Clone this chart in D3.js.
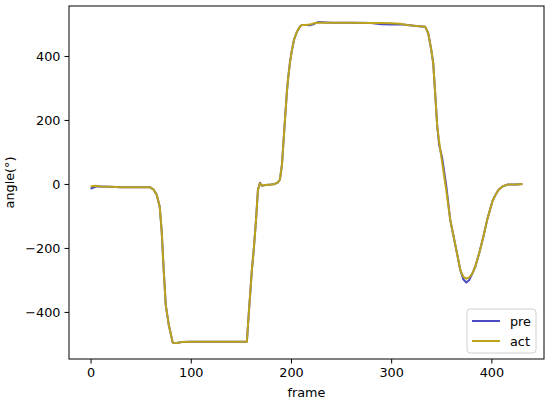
<!DOCTYPE html>
<html>
<head>
<meta charset="utf-8">
<script src="https://cdn.jsdelivr.net/npm/d3@7"></script>
<style>
  body { margin: 0; background: #fff; }
  text { font-family: "DejaVu Sans", sans-serif; }
</style>
</head>
<body>
<div id="chart"></div>
<script>
// frame numbers where values were read
var frames = [0,5,10,20,30,40,50,59,63,66,69,71,73,75,78,82,86,91,100,120,140,156,158,161,163,165,167,169,171,175,180,184,187,189,191,192,194,196,197,199,201,203,206,209,211,215,219,223,227,240,260,280,290,300,309,316,325,334,337,340,342,344,346,348,351,355,359,364,369,372,375,378,381,384,388,392,396,401,404,407,411,416,425,431];

// predicted angle
var pre = [-15,-8,-8,-9,-10,-10,-10,-10,-18,-34,-71,-150,-270,-378,-440,-496,-497,-494,-493,-493,-493,-493,-400,-269,-200,-118,-20,4,-6,-3,-2,0,5,14,60,106,200,290,325,380,419,450,476,492,497,497,496,500,506,504,504,503,499,498,499,497,494,491,471,420,377,280,179,120,80,-5,-113,-190,-269,-298,-308,-300,-280,-258,-215,-165,-110,-55,-35,-19,-8,-2,-2,0];

// actual angle
var act = [-8,-6,-8,-9,-10,-10,-10,-10,-18,-34,-71,-150,-270,-378,-440,-496,-497,-494,-493,-493,-493,-493,-400,-269,-200,-118,-20,2,-5,-3,-2,0,5,14,60,106,200,290,325,380,419,450,476,492,497,497,498,502,504,504,504,503,503,502,501,497,494,491,471,420,377,280,179,130,65,-20,-113,-190,-269,-290,-296,-292,-280,-258,-215,-165,-110,-55,-35,-19,-8,-2,-2,0];

var xTicks = [0, 100, 200, 300, 400];
var yTicks = [-400, -200, 0, 200, 400];

var seriesNames = ["pre", "act"];
var seriesColors = ["#4b4bc2", "#bba31c"];

var width = 550, height = 402;
var margin = {top: 6, right: 6, bottom: 43, left: 69};
var w = width - margin.left - margin.right;
var h = height - margin.top - margin.bottom;

var svg = d3.select("#chart").append("svg")
  .attr("width", width)
  .attr("height", height);

var g = svg.append("g")
  .attr("transform", "translate(" + margin.left + "," + margin.top + ")");

// matplotlib style 5% padding
var xr = d3.extent(frames);
var xpad = (xr[1] - xr[0]) * 0.05;
var allY = pre.concat(act);
var yr = d3.extent(allY);
var ypad = (yr[1] - yr[0]) * 0.05;

var x = d3.scaleLinear().domain([xr[0] - xpad, xr[1] + xpad]).range([0, w]);
var y = d3.scaleLinear().domain([yr[0] - ypad, yr[1] + ypad]).range([h, 0]);

var xAxis = d3.axisBottom(x).tickValues(xTicks).tickSize(4.5).tickPadding(4).tickSizeOuter(0);
var yAxis = d3.axisLeft(y).tickValues(yTicks).tickSize(4.5).tickPadding(4).tickSizeOuter(0);

var gx = g.append("g")
  .attr("transform", "translate(0," + h + ")")
  .call(xAxis);
var gy = g.append("g").call(yAxis);

[gx, gy].forEach(function(a) {
  a.select(".domain").remove();
  a.selectAll("line").attr("stroke", "#000").attr("stroke-width", 1);
  a.selectAll("text").attr("fill", "#000")
    .style("font-size", "12.8px")
    .style("font-family", "DejaVu Sans");
});

var line = d3.line()
  .x(function(d) { return x(d[0]); })
  .y(function(d) { return y(d[1]); });

var series = [pre, act];
series.forEach(function(vals, i) {
  var pts = frames.map(function(f, j) { return [f, vals[j]]; });
  g.append("path")
    .datum(pts)
    .attr("fill", "none")
    .attr("stroke", seriesColors[i])
    .attr("stroke-width", 2)
    .attr("stroke-linejoin", "round")
    .attr("d", line);
});

// axes frame
g.append("rect")
  .attr("x", 0).attr("y", 0)
  .attr("width", w).attr("height", h)
  .attr("fill", "none")
  .attr("stroke", "#000")
  .attr("stroke-width", 1);

// axis labels
svg.append("text")
  .attr("x", margin.left + w / 2)
  .attr("y", 397)
  .attr("text-anchor", "middle")
  .style("font-size", "12.8px")
  .text("frame");

svg.append("text")
  .attr("transform", "translate(14," + (margin.top + h / 2) + ") rotate(-90)")
  .attr("text-anchor", "middle")
  .style("font-size", "12.8px")
  .text("angle(°)");

// legend
var legW = 69, legH = 44;
var leg = g.append("g")
  .attr("transform", "translate(" + (w - legW - 8) + "," + (h - legH - 6) + ")");

leg.append("rect")
  .attr("width", legW).attr("height", legH)
  .attr("rx", 3)
  .attr("fill", "#fff").attr("fill-opacity", 0.8)
  .attr("stroke", "#d0d0d0");

seriesNames.forEach(function(name, i) {
  var yy = 12 + i * 20;
  leg.append("line")
    .attr("x1", 5).attr("x2", 33)
    .attr("y1", yy).attr("y2", yy)
    .attr("stroke", seriesColors[i])
    .attr("stroke-width", 2);
  leg.append("text")
    .attr("x", 43).attr("y", yy + 4.5)
    .style("font-size", "12.8px")
    .text(name);
});
</script>
</body>
</html>
